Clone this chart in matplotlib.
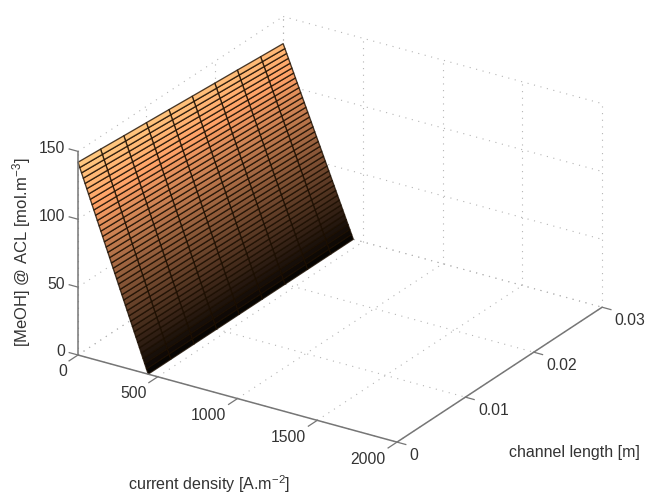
import numpy as np
import matplotlib
matplotlib.use("Agg")
import matplotlib.pyplot as plt
from matplotlib.transforms import IdentityTransform
from mpl_toolkits.mplot3d import proj3d

plt.rcParams['font.family'] = ['Liberation Sans', 'DejaVu Sans']
plt.rcParams['mathtext.default'] = 'regular'

# ---- data ----
current_density = [0, 11, 22, 33, 44, 55, 66, 77, 88, 99, 110, 121, 132, 143, 154, 165, 176,
                   187, 198, 209, 220, 231, 242, 253, 264, 275, 286, 297, 308, 319, 330,
                   341, 352, 363, 374, 385, 396, 407, 418, 429, 440]
channel_length = [0, 0.0033, 0.0067, 0.01, 0.0133, 0.0167, 0.02, 0.0233, 0.0267, 0.03]
meoh_at_zero_current = [142, 140.7, 139.3, 138, 136.7, 135.3, 134, 132.7, 131.3, 130]
relative_profile = [1.0, 0.975, 0.95, 0.925, 0.9, 0.875, 0.85, 0.825, 0.8, 0.775, 0.75,
                    0.725, 0.7, 0.675, 0.65, 0.625, 0.6, 0.575, 0.55, 0.525, 0.5,
                    0.475, 0.45, 0.425, 0.4, 0.375, 0.35, 0.325, 0.3, 0.275, 0.25,
                    0.225, 0.2, 0.175, 0.15, 0.125, 0.1, 0.075, 0.05, 0.025, 0.0]
x_ticks = [0, 500, 1000, 1500, 2000]
y_ticks = [0, 0.01, 0.02, 0.03]
z_ticks = [0, 50, 100, 150]
y_tick_labels = ['0', '0.01', '0.02', '0.03']

W, H = 646, 495
fig = plt.figure(figsize=(W / 100, H / 100), dpi=100, facecolor='white')
ax = fig.add_axes([0, -0.2, 1, 1.4], projection='3d', proj_type='ortho', computed_zorder=False)
ax.set_axis_off()
ax.patch.set_alpha(0)
ax.view_init(elev=25.07, azim=-57.2)

Lx, Ly, Lz = 379.5, 378.7, 224.8
zoom = 1.0


def finish_limits():
    ax.set_xlim(0, 2000)
    ax.set_ylim(0, 0.03)
    ax.set_zlim(0, 150)


X, Y = np.meshgrid(current_density, channel_length, indexing='ij')
Z = np.outer(relative_profile, meoh_at_zero_current)
colors = plt.cm.copper(Z / Z.max())
surf = ax.plot_surface(X, Y, Z, rstride=1, cstride=1, facecolors=colors, shade=False,
                       edgecolor=(0.1, 0.05, 0.0, 0.8), linewidth=0.95, antialiased=True, zorder=3)
surf.set_clip_on(False)

grid_kw = dict(color='#b4b4b4', lw=0.8, ls=(0, (1, 5)), zorder=1, clip_on=False)
for x in x_ticks:
    ax.plot([x, x], [0, 0.03], [0, 0], **grid_kw)
    ax.plot([x, x], [0.03, 0.03], [0, 150], **grid_kw)
for y in y_ticks:
    ax.plot([0, 2000], [y, y], [0, 0], **grid_kw)
    ax.plot([0, 0], [y, y], [0, 150], **grid_kw)
for z in z_ticks:
    ax.plot([0, 2000], [0.03, 0.03], [z, z], **grid_kw)
    ax.plot([0, 0], [0, 0.03], [z, z], **grid_kw)

axis_kw = dict(color='#767676', lw=1.1, zorder=4, solid_capstyle='butt', clip_on=False)
ax.plot([0, 2000], [0, 0], [0, 0], **axis_kw)
ax.plot([2000, 2000], [0, 0.03], [0, 0], **axis_kw)
ax.plot([0, 0], [0, 0], [0, 150], **axis_kw)
tick_kw = dict(color='#767676', lw=0.9, zorder=4, clip_on=False)
for x in x_ticks:
    ax.plot([x, x], [0, -0.0013], [0, 0], **tick_kw)
for y in y_ticks:
    ax.plot([2000, 2055], [y, y], [0, 0], **tick_kw)
for z in z_ticks:
    ax.plot([0, -55], [0, 0], [z, z], **tick_kw)

finish_limits()


def to_px(x, y, z):
    ax.apply_aspect()
    x2, y2, _ = proj3d.proj_transform(x, y, z, ax.get_proj())
    return ax.transData.transform((x2, y2))


# size and place the box so that its corners land where the reference has them
ax.set_box_aspect((Lx, Ly, Lz), zoom=zoom)
p0, p1 = to_px(0, 0, 0), to_px(2000, 0, 0)
zoom *= 319 / (p1[0] - p0[0])
ax.set_box_aspect((Lx, Ly, Lz), zoom=zoom)
p0 = to_px(0, 0, 0)
pos = ax.get_position(original=True)
dx = (78 - p0[0]) / W
dy = ((H - 355) - p0[1]) / H
ax.set_position([pos.x0 + dx, pos.y0 + dy, pos.width, pos.height])

TEXT = '#333333'


def put(px, py, s, size=11.3, **kw):
    fig.text(px, H - py, s, transform=IdentityTransform(), color=TEXT, fontsize=size, **kw)


for x in x_ticks:
    p = to_px(x, 0, 0)
    put(p[0] - 11, H - p[1] + 17, str(x), ha='right', va='center')
for y, lab in zip(y_ticks, y_tick_labels):
    p = to_px(2000, y, 0)
    put(p[0] + 12.5, H - p[1] + 13, lab, ha='left', va='center')
for z in z_ticks:
    p = to_px(0, 0, z)
    put(p[0] - 13, H - p[1] - 3, str(z), ha='right', va='center')

put(209, 484, 'current density [A.m$^{-2}$]', size=11.6, ha='center', va='center')
put(574, 453, 'channel length [m]', size=11.5, ha='center', va='center')
put(22, 252, '[MeOH] @ ACL [mol.m$^{-3}$]', size=12, ha='center', va='center', rotation=90)

fig.savefig('out.png', dpi=100, facecolor='white')
